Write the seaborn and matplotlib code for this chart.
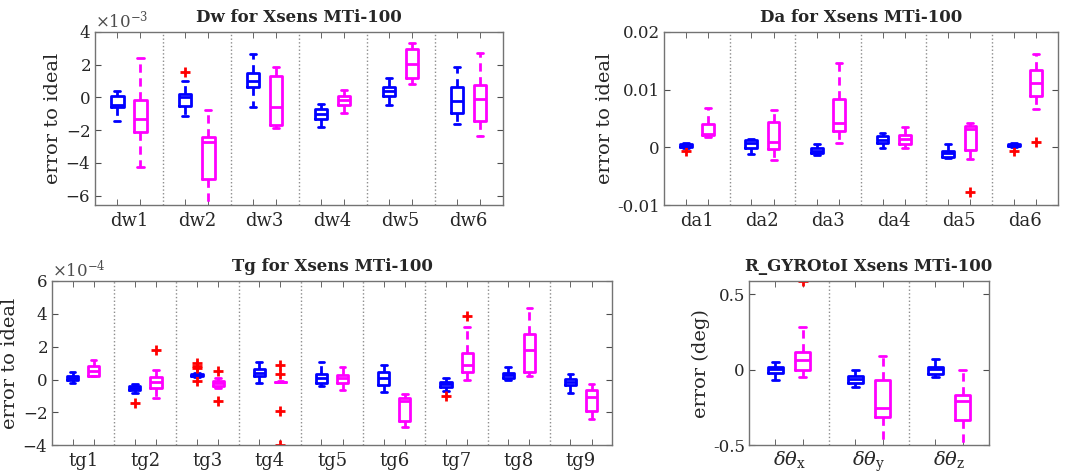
import pandas as pd
import seaborn as sns
import matplotlib.pyplot as plt
import matplotlib.ticker as ticker

sns.set_style("ticks")
plt.rcParams["font.family"] = ["DejaVu Serif"]
plt.rcParams["mathtext.fontset"] = "dejavuserif"
plt.rcParams["axes.unicode_minus"] = False

BLUE = "#0000ff"
MAGENTA = "#ff00ff"
HUES = ["blue", "magenta"]

# box summaries: (low whisker, q1, median, q3, high whisker)
DW_LABELS = ["dw1", "dw2", "dw3", "dw4", "dw5", "dw6"]
DW_BLUE = [
    (-1.45, -0.57, -0.45, 0.10, 0.41),
    (-1.12, -0.55, 0.04, 0.24, 1.02),
    (-0.57, 0.65, 0.98, 1.51, 2.63),
    (-1.82, -1.33, -1.00, -0.71, -0.41),
    (-0.43, 0.10, 0.39, 0.67, 1.18),
    (-1.65, -0.96, -0.22, 0.63, 1.86),
]
DW_BLUE_OUT = [[], [1.53], [], [], [], []]
DW_MAG = [
    (-4.22, -2.14, -1.33, -0.14, 2.39),
    (-6.70, -5.00, -2.71, -2.39, -0.78),
    (-1.86, -1.69, -0.59, 1.33, 1.84),
    (-0.92, -0.43, -0.14, 0.08, 0.47),
    (0.82, 1.18, 2.02, 2.96, 3.31),
    (-2.35, -1.41, -0.12, 0.78, 2.71),
]
DW_MAG_OUT = [[], [], [], [], [], []]

DA_LABELS = ["da1", "da2", "da3", "da4", "da5", "da6"]
DA_BLUE = [
    (-0.0001, 0.0001, 0.0002, 0.0005, 0.0008),
    (-0.0011, -0.0001, 0.0007, 0.0012, 0.0014),
    (-0.0014, -0.0009, -0.0006, -0.0002, 0.0005),
    (-0.0002, 0.0007, 0.0012, 0.0019, 0.0025),
    (-0.0019, -0.0017, -0.0009, -0.0006, 0.0006),
    (0.0001, 0.00015, 0.0003, 0.0005, 0.0007),
]
DA_BLUE_OUT = [[-0.0007], [], [], [], [], [-0.0006]]
DA_MAG = [
    (0.0018, 0.0021, 0.0023, 0.0041, 0.0069),
    (-0.0022, -0.0003, 0.0010, 0.0044, 0.0064),
    (0.0008, 0.0028, 0.0043, 0.0083, 0.0147),
    (-0.0002, 0.0006, 0.0014, 0.0021, 0.0035),
    (-0.0021, -0.0005, 0.0031, 0.0037, 0.0043),
    (0.0067, 0.0089, 0.0112, 0.0134, 0.0161),
]
DA_MAG_OUT = [[], [], [], [], [-0.0078], [0.0009]]

TG_LABELS = ["tg1", "tg2", "tg3", "tg4", "tg5", "tg6", "tg7", "tg8", "tg9"]
TG_BLUE = [
    (-0.24, -0.02, 0.12, 0.22, 0.43),
    (-0.83, -0.63, -0.49, -0.37, -0.26),
    (0.17, 0.22, 0.28, 0.35, 0.41),
    (-0.22, 0.22, 0.39, 0.61, 1.04),
    (-0.41, -0.20, 0.12, 0.33, 1.04),
    (-0.73, -0.33, 0.12, 0.45, 0.91),
    (-0.69, -0.47, -0.30, -0.14, 0.12),
    (-0.04, 0.10, 0.26, 0.39, 0.75),
    (-0.79, -0.35, -0.14, 0.02, 0.33),
]
TG_BLUE_OUT = [[], [-1.44], [0.98, 0.81, 0.70, -0.08], [], [], [], [-1.02], [], []]
TG_MAG = [
    (0.20, 0.22, 0.51, 0.81, 1.18),
    (-1.10, -0.51, -0.16, 0.18, 0.57),
    (-0.50, -0.42, -0.22, -0.06, 0.08),
    (-0.17, -0.16, -0.14, -0.12, -0.11),
    (-0.65, -0.24, 0.12, 0.30, 0.75),
    (-2.89, -2.52, -1.30, -1.10, -0.91),
    (0.00, 0.45, 0.87, 1.63, 3.21),
    (0.20, 0.45, 1.77, 2.74, 4.33),
    (-2.42, -1.91, -1.04, -0.63, -0.26),
]
TG_MAG_OUT = [[], [1.79], [0.51, -1.33], [0.91, 0.33, -1.91, -4.0], [], [], [3.84], [], []]

R_LABELS = [r"$\delta\theta_{\rm x}$", r"$\delta\theta_{\rm y}$", r"$\delta\theta_{\rm z}$"]
R_BLUE = [
    (-0.07, -0.02, 0.007, 0.015, 0.05),
    (-0.115, -0.09, -0.06, -0.042, 0.0),
    (-0.05, -0.028, 0.002, 0.018, 0.073),
]
R_BLUE_OUT = [[], [], []]
R_MAG = [
    (-0.05, -0.005, 0.062, 0.117, 0.285),
    (-0.52, -0.31, -0.255, -0.07, 0.088),
    (-0.52, -0.33, -0.21, -0.17, 0.0),
]
R_MAG_OUT = [[0.59], [], []]


def box_samples(stats, outliers, scale):
    lo, q1, med, q3, hi = stats
    vals = [lo] + [q1] * 10 + [med] * 10 + [q3] * 10 + [hi] + list(outliers)
    return [v * scale for v in vals]


def long_frame(labels, blue, blue_out, mag, mag_out, scale=1.0):
    rows = []
    for i, lab in enumerate(labels):
        for v in box_samples(blue[i], blue_out[i], scale):
            rows.append((lab, "blue", v))
        for v in box_samples(mag[i], mag_out[i], scale):
            rows.append((lab, "magenta", v))
    return pd.DataFrame(rows, columns=["param", "sensor", "value"])


def draw_panel(ax, df, labels, title, ylabel, ylim, sci=False):
    sns.boxplot(
        data=df, x="param", y="value", hue="sensor", order=labels, hue_order=HUES,
        palette=[BLUE, MAGENTA], fill=False, width=0.68, gap=0.47, linewidth=2,
        whis=1.5, legend=False, ax=ax,
        flierprops=dict(marker="+", markeredgecolor="red", markersize=7, markeredgewidth=2),
        whiskerprops=dict(linestyle=(0, (3, 2))),
    )
    n = len(labels)
    for k in range(n - 1):
        ax.axvline(k + 0.5, color="0.55", ls=":", lw=1, zorder=0)
    ax.set_xlim(-0.5, n - 0.5)
    ax.set_ylim(*ylim)
    ax.set_xticks(range(n))
    ax.set_xticklabels(labels, fontsize=13)
    ax.set_xticks([k + s for k in range(n) for s in (-0.17, 0.17)], minor=True)
    ax.tick_params(axis="x", which="major", length=0, pad=5)
    ax.tick_params(which="both", direction="in", top=True, right=True, color="0.3")
    ax.tick_params(which="minor", length=4)
    ax.tick_params(axis="y", length=4, labelsize=12, pad=3)
    ax.set_xlabel("")
    ax.set_ylabel(ylabel, fontsize=14, labelpad=2)
    ax.set_title(title, fontsize=12, fontweight="bold", pad=7)
    if sci:
        fmt = ticker.ScalarFormatter(useMathText=True)
        fmt.set_powerlimits((0, 0))
        ax.yaxis.set_major_formatter(fmt)
        ax.yaxis.get_offset_text().set_fontsize(12)
        ax.yaxis.get_offset_text().set_color("0.3")
    else:
        ax.yaxis.set_major_formatter(ticker.FuncFormatter(lambda v, p: f"{v:g}"))
    for s in ax.spines.values():
        s.set_color("0.45")
        s.set_linewidth(1)


fig = plt.figure(figsize=(10.67, 4.74), dpi=100)
ax_dw = fig.add_axes([0.089, 0.5675, 0.382, 0.365])
ax_da = fig.add_axes([0.6223, 0.5675, 0.369, 0.365])
ax_tg = fig.add_axes([0.0487, 0.0605, 0.525, 0.347])
ax_r = fig.add_axes([0.702, 0.0605, 0.225, 0.347])

draw_panel(ax_dw, long_frame(DW_LABELS, DW_BLUE, DW_BLUE_OUT, DW_MAG, DW_MAG_OUT, 1e-3),
           DW_LABELS, "Dw for Xsens MTi-100", "error to ideal", (-6.57e-3, 4e-3), sci=True)
ax_dw.set_yticks([-6e-3, -4e-3, -2e-3, 0, 2e-3, 4e-3])

draw_panel(ax_da, long_frame(DA_LABELS, DA_BLUE, DA_BLUE_OUT, DA_MAG, DA_MAG_OUT),
           DA_LABELS, "Da for Xsens MTi-100", "error to ideal", (-0.01, 0.02))
ax_da.set_yticks([-0.01, 0, 0.01, 0.02])

draw_panel(ax_tg, long_frame(TG_LABELS, TG_BLUE, TG_BLUE_OUT, TG_MAG, TG_MAG_OUT, 1e-4),
           TG_LABELS, "Tg for Xsens MTi-100", "error to ideal", (-4e-4, 6e-4), sci=True)
ax_tg.set_yticks([-4e-4, -2e-4, 0, 2e-4, 4e-4, 6e-4])

draw_panel(ax_r, long_frame(R_LABELS, R_BLUE, R_BLUE_OUT, R_MAG, R_MAG_OUT),
           R_LABELS, "R_GYROtoI Xsens MTi-100", "error (deg)", (-0.5, 0.588))
ax_r.set_yticks([-0.5, 0, 0.5])
ax_r.tick_params(axis="x", labelsize=14, pad=3)

fig.savefig("out.png", dpi=100)
